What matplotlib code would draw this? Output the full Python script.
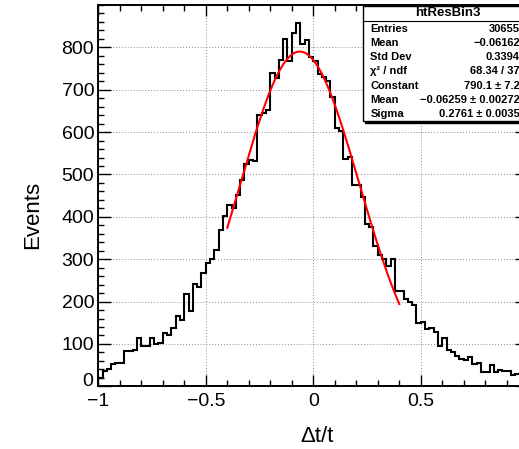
import numpy as np
import matplotlib.pyplot as plt
from matplotlib.patches import Rectangle
from matplotlib.lines import Line2D
from matplotlib.ticker import MultipleLocator, FixedLocator

plt.rcParams['font.family'] = ['Liberation Sans', 'DejaVu Sans']

# ---- histogram htResBin3 : 100 bins on [-1, 1] ----
bin_edges = np.linspace(-1, 1, 101)
counts = [20, 37, 42, 52, 54, 55, 84, 84, 85, 115,
          94, 94, 115, 101, 102, 125, 121, 138, 165, 157,
          217, 178, 241, 235, 268, 292, 301, 322, 369, 403,
          427, 422, 452, 487, 525, 533, 531, 640, 645, 653,
          739, 727, 771, 820, 767, 833, 857, 809, 818, 777,
          767, 737, 731, 720, 684, 609, 602, 537, 541, 476,
          476, 447, 384, 376, 331, 309, 300, 284, 301, 226,
          226, 205, 200, 192, 150, 151, 136, 137, 128, 95,
          115, 85, 82, 72, 65, 62, 68, 52, 56, 34,
          34, 50, 33, 38, 35, 35, 27, 30, 30, 25]

# ---- gaus fit ----
fit_const = 790.1
fit_mean = -0.06259
fit_sigma = 0.2761
fit_lo, fit_hi = -0.4, 0.4

# ---- stats box ----
stats_title = "htResBin3"
stats_labels = ["Entries", "Mean", "Std Dev", "χ² / ndf", "Constant", "Mean", "Sigma"]
stats_values = ["30655", "−0.06162", "0.3394", "68.34 / 37",
                "790.1 ± 7.2", "−0.06259 ± 0.00272", "0.2761 ± 0.0035"]

# ---- axes ticks (the canvas is cropped, x = 1 falls outside) ----
xticks = [-1, -0.5, 0, 0.5]
xtick_labels = ["−1", "−0.5", "0", "0.5"]
yticks = [0, 100, 200, 300, 400, 500, 600, 700, 800]
ytick_labels = [str(v) for v in yticks]

W, H = 519, 449


def fx(px):
    return px / W


def fy(py):
    return 1 - py / H


fig = plt.figure(figsize=(W / 100, H / 100), dpi=100)
fig.patch.set_facecolor('white')

# frame goes past the right edge of the picture
x0, x1, ytop, ybot = 98.3, 528.3, 5.0, 386.3
ax = fig.add_axes([fx(x0), fy(ybot), (x1 - x0) / W, (ybot - ytop) / H])

ax.stairs(counts, bin_edges, color='black', linewidth=1.5)

xf = np.linspace(fit_lo, fit_hi, 300)
yf = fit_const * np.exp(-0.5 * ((xf - fit_mean) / fit_sigma) ** 2)
ax.plot(xf, yf, color='red', linewidth=1.5)

ax.set_xlim(-1, 1)
ax.set_ylim(0, 900)

ax.xaxis.set_major_locator(FixedLocator(xticks))
ax.set_xticklabels(xtick_labels)
ax.xaxis.set_minor_locator(MultipleLocator(0.1))
ax.yaxis.set_major_locator(FixedLocator(yticks))
# the "0" label sits a bit higher, next to the "-1" of the x axis
ax.set_yticklabels([""] + ytick_labels[1:])
ax.yaxis.set_minor_locator(MultipleLocator(20))

ax.tick_params(which='both', direction='in', top=True, right=True, width=1.0,
               labelsize=14, colors='black')
ax.tick_params(axis='x', which='major', length=8, pad=5)
ax.tick_params(axis='x', which='minor', length=4)
ax.tick_params(axis='y', which='major', length=9.3, pad=3)
ax.tick_params(axis='y', which='minor', length=4.6)

for s in ax.spines.values():
    s.set_linewidth(1.4)

ax.grid(True, which='major', color='0.55', linestyle=(0, (1, 2)), linewidth=0.7)
ax.set_axisbelow(True)

fig.text(fx(93.5), fy(381.5), ytick_labels[0], ha='right', va='center', fontsize=14)
fig.text(fx(33), fy(215), "Events", rotation=90, ha='center', va='center', fontsize=16)
fig.text(fx(317), fy(437), "Δt/t", ha='center', va='center', fontsize=16)

# stats box
bx0, bx1, by0, by1 = 362.7, 545, 6.5, 120.5
shadow = Rectangle((fx(bx0 + 2), fy(by1 + 2)), (bx1 - bx0) / W, (by1 - by0) / H,
                   transform=fig.transFigure, facecolor='black', edgecolor='black', zorder=5)
box = Rectangle((fx(bx0), fy(by1)), (bx1 - bx0) / W, (by1 - by0) / H,
                transform=fig.transFigure, facecolor='white', edgecolor='black',
                linewidth=1.0, zorder=6)
fig.patches.extend([shadow, box])
fig.lines.append(Line2D([fx(bx0), fx(bx1)], [fy(20.5), fy(20.5)],
                        transform=fig.transFigure, color='black', linewidth=0.8, zorder=7))
fig.text(fx(448), fy(13.5), stats_title, ha='center', va='center', fontsize=9.5,
         fontweight='bold', zorder=8)
row_y = [28.5, 43, 57.5, 71.5, 86, 100.3, 114]
for lab, val, ry in zip(stats_labels, stats_values, row_y):
    fig.text(fx(370.5), fy(ry), lab, ha='left', va='center', fontsize=8,
             fontweight='bold', zorder=8)
    fig.text(fx(520), fy(ry), val, ha='right', va='center', fontsize=8,
             fontweight='bold', zorder=8)

fig.savefig('out.png', dpi=100)
